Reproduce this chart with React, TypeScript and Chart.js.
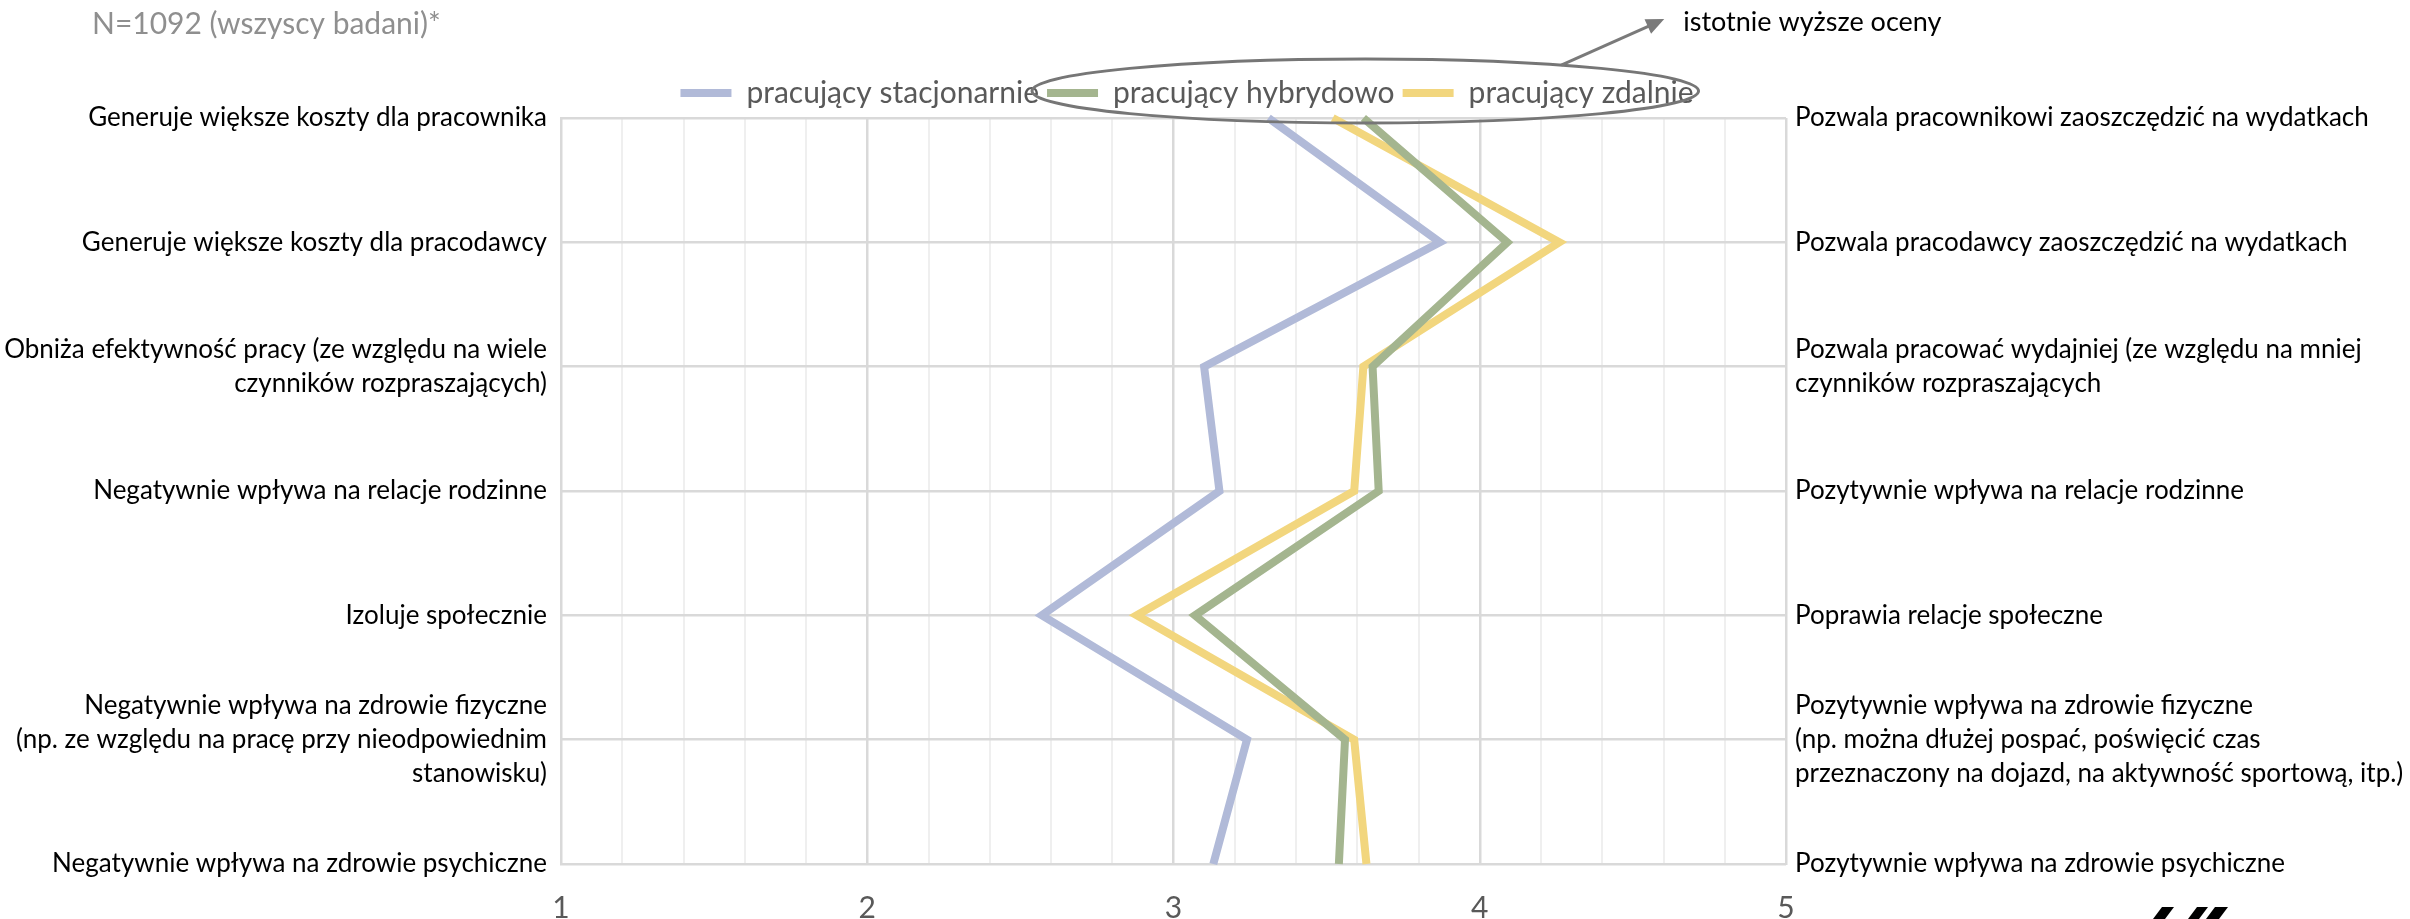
import React, { useEffect, useRef } from 'react';
import { Chart, registerables } from 'chart.js';

Chart.register(...registerables);

const leftLabels: (string | string[])[] = [
  'Generuje większe koszty dla pracownika',
  'Generuje większe koszty dla pracodawcy',
  ['Obniża efektywność pracy (ze względu na wiele', 'czynników rozpraszających)'],
  'Negatywnie wpływa na relacje rodzinne',
  'Izoluje społecznie',
  ['Negatywnie wpływa na zdrowie fizyczne', '(np. ze względu na pracę przy nieodpowiednim', 'stanowisku)'],
  'Negatywnie wpływa na zdrowie psychiczne',
];

const rightLabels: (string | string[])[] = [
  'Pozwala pracownikowi zaoszczędzić na wydatkach',
  'Pozwala pracodawcy zaoszczędzić na wydatkach',
  ['Pozwala pracować wydajniej (ze względu na mniej', 'czynników rozpraszających'],
  'Pozytywnie wpływa na relacje rodzinne',
  'Poprawia relacje społeczne',
  ['Pozytywnie wpływa na zdrowie fizyczne', '(np. można dłużej pospać, poświęcić czas', 'przeznaczony na dojazd, na aktywność sportową, itp.)'],
  'Pozytywnie wpływa na zdrowie psychiczne',
];

const seriesNames = ['pracujący stacjonarnie', 'pracujący hybrydowo', 'pracujący zdalnie'];
const stacjonarnie = [3.31, 3.87, 3.10, 3.15, 2.57, 3.24, 3.13];
const hybrydowo = [3.62, 4.09, 3.65, 3.67, 3.07, 3.56, 3.54];
const zdalnie = [3.52, 4.26, 3.62, 3.59, 2.88, 3.59, 3.63];
const seriesColors = ['#B1BAD8', '#A4B58F', '#F2D67E'];

const xMin = 1;
const xMax = 5;
const xStep = 0.2;

const titleText = 'N=1092 (wszyscy badani)*';
const noteText = 'istotnie wyższe oceny';

const FONT = 'Lato, "Open Sans", sans-serif';

const isMajor = (v: number) => Math.abs(v - Math.round(v)) < 1e-6;

const legendShiftPlugin = {
  id: 'legendShift',
  afterLayout(chart: any) {
    const lg = chart.legend;
    if (lg) {
      lg.right -= 36;
      lg.width -= 36;
    }
  },
};

const overlayPlugin = {
  id: 'overlay',
  afterDraw(chart: any) {
    const ctx = chart.ctx as CanvasRenderingContext2D;
    ctx.save();
    // subtitle
    ctx.font = `30px ${FONT}`;
    ctx.fillStyle = '#8f8f8f';
    ctx.textBaseline = 'middle';
    ctx.textAlign = 'left';
    ctx.fillText(titleText, 92, 24);

    // ellipse around legend items 2 and 3
    const hb = chart.legend && chart.legend.legendHitBoxes;
    if (hb && hb.length >= 3) {
      const x0 = hb[1].left - 15;
      const x1 = hb[2].left + hb[2].width + 5;
      const cy = hb[1].top + hb[1].height / 2 - 2;
      const cx = (x0 + x1) / 2;
      const rx = (x1 - x0) / 2;
      const ry = 32;
      ctx.beginPath();
      ctx.ellipse(cx, cy, rx, ry, 0, 0, Math.PI * 2);
      ctx.strokeStyle = '#767676';
      ctx.lineWidth = 3;
      ctx.stroke();

      // arrow
      const cosA = 0.588;
      const sinA = -Math.sqrt(1 - cosA * cosA);
      const sx = cx + rx * cosA;
      const sy = cy + ry * sinA;
      const ex = sx + 103;
      const ey = sy - 46;
      const ang = Math.atan2(ey - sy, ex - sx);
      ctx.beginPath();
      ctx.moveTo(sx, sy);
      ctx.lineTo(ex - 12 * Math.cos(ang), ey - 12 * Math.sin(ang));
      ctx.strokeStyle = '#7a7a7a';
      ctx.lineWidth = 3;
      ctx.stroke();
      ctx.beginPath();
      ctx.moveTo(ex, ey);
      ctx.lineTo(ex - 18 * Math.cos(ang) + 8 * Math.sin(ang), ey - 18 * Math.sin(ang) - 8 * Math.cos(ang));
      ctx.lineTo(ex - 18 * Math.cos(ang) - 8 * Math.sin(ang), ey - 18 * Math.sin(ang) + 8 * Math.cos(ang));
      ctx.closePath();
      ctx.fillStyle = '#7a7a7a';
      ctx.fill();

      ctx.font = `27px ${FONT}`;
      ctx.fillStyle = '#000000';
      ctx.textBaseline = 'middle';
      ctx.fillText(noteText, ex + 19, ey + 3);
    }

    // logo fragment (bottom right)
    const W = chart.width;
    const H = chart.height;
    ctx.fillStyle = '#000000';
    const slash = (x: number, w: number) => {
      ctx.beginPath();
      ctx.moveTo(x + 9, H - 12);
      ctx.lineTo(x + 9 + w, H - 12);
      ctx.lineTo(x + w, H);
      ctx.lineTo(x, H);
      ctx.closePath();
      ctx.fill();
    };
    slash(W - 257, 12);
    slash(W - 222, 11);
    slash(W - 204, 13);
    ctx.restore();
  },
};

export default function App() {
  const canvasRef = useRef<HTMLCanvasElement | null>(null);

  useEffect(() => {
    document.body.style.margin = '0';
    const canvas = canvasRef.current;
    if (!canvas) return;
    const datasets = [stacjonarnie, hybrydowo, zdalnie].map((d, i) => ({
      label: seriesNames[i],
      data: d,
      borderColor: seriesColors[i],
      backgroundColor: seriesColors[i],
      borderWidth: 8,
      pointRadius: 0,
      pointHoverRadius: 0,
      tension: 0,
      fill: false,
    }));

    const chart = new Chart(canvas, {
      type: 'line',
      data: { labels: leftLabels as any, datasets },
      options: {
        indexAxis: 'y',
        animation: false,
        responsive: false,
        devicePixelRatio: 1,
        layout: { padding: { top: 70, left: 0, right: 0, bottom: 0 } },
        plugins: {
          tooltip: { enabled: false },
          title: { display: false },
          legend: {
            display: true,
            position: 'top',
            align: 'center',
            labels: {
              boxWidth: 51,
              boxHeight: 8,
              padding: 8,
              color: '#595959',
              font: { family: FONT, size: 30 },
              generateLabels(chart: any) {
                const items = (Chart.defaults.plugins.legend.labels as any).generateLabels(chart);
                return items.map((it: any) => ({ ...it, lineWidth: 0, fillStyle: it.strokeStyle }));
              },
            },
          },
        },
        scales: {
          x: {
            type: 'linear',
            position: 'bottom',
            min: xMin,
            max: xMax,
            afterFit(scale: any) {
              scale.height = 55;
            },
            ticks: {
              stepSize: xStep,
              autoSkip: false,
              maxRotation: 0,
              padding: 26,
              color: '#595959',
              font: { family: FONT, size: 30 },
              callback: (v: any) => (isMajor(Number(v)) ? String(Math.round(Number(v))) : ''),
            },
            grid: {
              drawTicks: false,
              color: (c: any) => (c.tick && isMajor(c.tick.value) ? '#d9d9d9' : '#efefef'),
              lineWidth: (c: any) => (c.tick && isMajor(c.tick.value) ? 2.5 : 2),
            },
            border: { display: true, color: '#d9d9d9', width: 2 },
          },
          y: {
            type: 'category',
            position: 'left',
            offset: false,
            afterFit(scale: any) {
              scale.width = 561;
            },
            ticks: {
              padding: 14,
              color: '#000000',
              autoSkip: false,
              font: { family: FONT, size: 26, lineHeight: 1.3 },
            },
            grid: { drawTicks: false, color: '#d9d9d9', lineWidth: 2.5 },
            border: { display: true, color: '#d9d9d9', width: 2 },
          },
          y2: {
            type: 'category',
            position: 'right',
            labels: rightLabels as any,
            offset: false,
            afterFit(scale: any) {
              scale.width = 624;
            },
            ticks: {
              padding: 9,
              color: '#000000',
              autoSkip: false,
              font: { family: FONT, size: 26, lineHeight: 1.3 },
            },
            grid: { display: false, drawTicks: false },
            border: { display: false },
          },
        },
      } as any,
      plugins: [legendShiftPlugin, overlayPlugin],
    });
    return () => chart.destroy();
  }, []);

  return (
    <div style={{ width: 2410, height: 919 }}>
      <canvas ref={canvasRef} width={2410} height={919} style={{ display: 'block' }} />
    </div>
  );
}
